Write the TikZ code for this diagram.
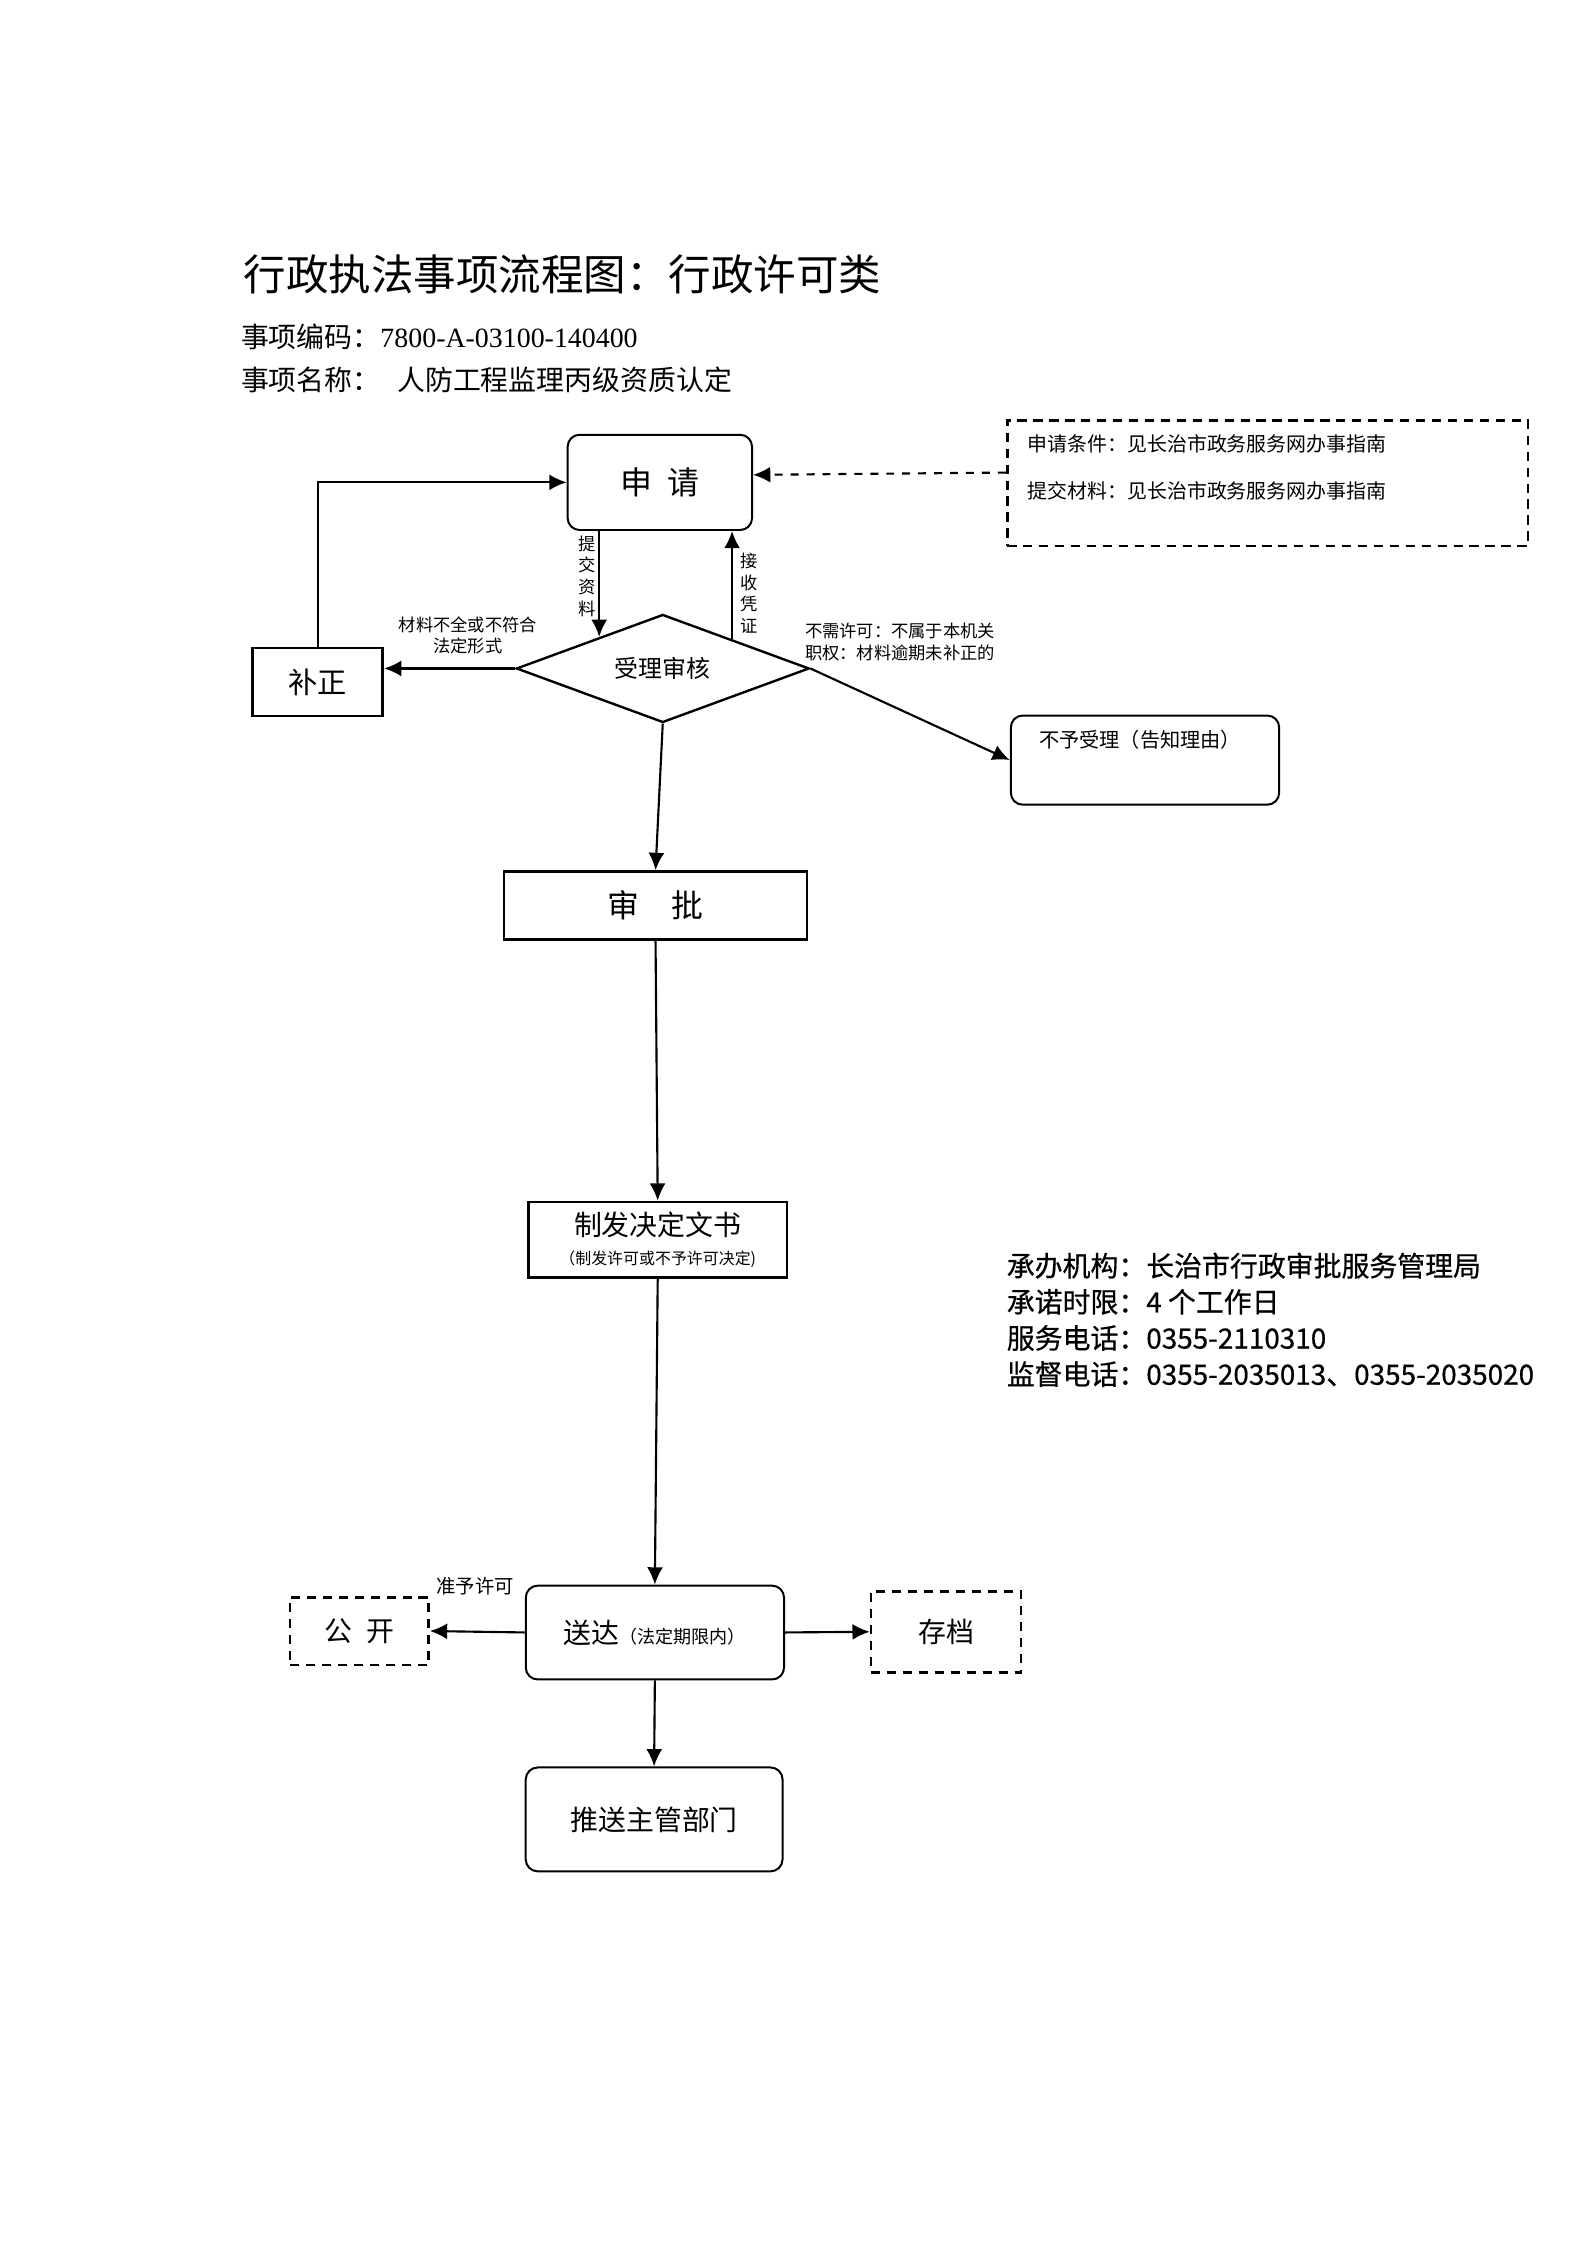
\documentclass[tikz,border=0pt]{standalone}
\usepackage{fontspec}
\setmainfont{Noto Sans CJK SC}
\newfontfamily\timesfont{Liberation Serif}
\newfontfamily\heiti{Noto Sans CJK SC}[FakeBold=0.6]
\usepackage{tikz}
\usetikzlibrary{shapes.geometric, arrows.meta, calc}

\begin{document}
\begin{tikzpicture}[scale=0.992,
  box/.style={draw, line width=1.0, inner sep=0, align=center},
  rbox/.style={box, line width=0.75, rounded corners=4.5pt},
  dbox/.style={box, dash pattern=on 3.5pt off 2.5pt},
  arr/.style={->, >={Latex[length=6.5pt, width=6pt]}, line width=0.8},
  note/.style={inner sep=0, align=center, font=\fontsize{6.5}{8.1}\selectfont}]

  \fill[white] (0, 0) rectangle (21.169, -29.940);

  \node[anchor=west, inner sep=0, font=\fontsize{16}{18}\selectfont] (title) at (3.245, -3.665) {行政执法事项流程图：行政许可类};
  \node[anchor=west, inner sep=0, font=\fontsize{10.5}{12}\selectfont] (code) at (3.207, -4.486) {事项编码：{\timesfont 7800-A-03100-140400}};
  \node[anchor=west, inner sep=0, font=\fontsize{10.5}{12}\selectfont] (name) at (3.207, -5.059) {事项名称：\hspace{0.6em}人防工程监理丙级资质认定};

  \node[rbox, minimum width=2.44cm, minimum height=1.26cm, font=\fontsize{12}{14}\selectfont] (shenqing) at (8.80, -6.433) {申\hspace{0.5em}请};
  \node[box, minimum width=1.72cm, minimum height=0.90cm, font=\fontsize{11}{13}\selectfont] (buzheng) at (4.238, -9.097) {补正};
  \node[diamond, draw, line width=0.9, aspect=2.7, inner sep=0, minimum width=3.875cm, minimum height=1.43cm,
        font=\fontsize{9}{11}\selectfont] (shenhe) at (8.839, -8.915) {受理审核\hspace{0.3cm}};
  \node[rbox, minimum width=3.55cm, minimum height=1.18cm] (buyu) at (15.27, -10.137) {};
  \node[anchor=west, inner sep=0, font=\fontsize{7.6}{9}\selectfont] (buyutext) at ([xshift=0.385cm, yshift=-0.343cm]buyu.north west) {不予受理（告知理由）};
  \node[dbox, minimum width=6.89cm, minimum height=1.661cm] (tiaojian) at (16.905, -6.4425) {};
  \node[anchor=west, inner sep=0, align=left, font=\fontsize{7.5}{17.9}\selectfont] (tiaojiantext) at ([xshift=0.285cm, yshift=0.21cm]tiaojian.west)
    {申请条件：见长治市政务服务网办事指南\\提交材料：见长治市政务服务网办事指南};

  \node[box, minimum width=4.01cm, minimum height=0.897cm, font=\fontsize{12}{14}\selectfont] (shenpi) at (8.743, -12.074) {审\hspace{1em}批};
  \node[box, minimum width=3.417cm, minimum height=0.993cm, font=\fontsize{10.5}{11}\selectfont] (zhifa) at (8.772, -16.532)
    {制发决定文书\\{\fontsize{6}{7}\selectfont （制发许可或不予许可决定)}};
  \node[rbox, minimum width=3.417cm, minimum height=1.241cm, font=\fontsize{10.5}{12}\selectfont] (songda) at (8.734, -21.772)
    {送达{\fontsize{6.8}{8}\selectfont （法定期限内）}};
  \node[dbox, minimum width=1.833cm, minimum height=0.897cm, font=\fontsize{10.5}{12}\selectfont] (gongkai) at (4.792, -21.753) {公\hspace{0.5em}开};
  \node[dbox, minimum width=1.985cm, minimum height=1.069cm, font=\fontsize{10.5}{12}\selectfont] (cundang) at (12.618, -21.763) {存档};
  \node[rbox, minimum width=3.398cm, minimum height=1.374cm, font=\fontsize{10.5}{12}\selectfont] (tuisong) at (8.724, -24.264) {推送主管部门};

  \node[note] (buquan) at (6.24, -8.476) {材料不全或不符合\\法定形式};
  \node[note, anchor=west, align=left] (buxu) at (10.73, -8.562) {不需许可：不属于本机关\\职权：材料逾期未补正的};
  \node[note] (tijiao) at (7.827, -7.684) {提\\交\\资\\料};
  \node[note] (jieshou) at (9.984, -7.913) {接\\收\\凭\\证};
  \node[note, font=\fontsize{7.3}{9}\selectfont] (zhunyu) at (6.338, -21.152) {准予许可};

  \node[anchor=west, inner sep=0, align=left, font=\heiti\fontsize{10.5}{13.6}\selectfont] (info) at (13.42, -17.601)
    {承办机构：长治市行政审批服务管理局\\承诺时限：4 个工作日\\服务电话：0355-2110310\\监督电话：0355-2035013、0355-2035020};

  \coordinate (tj) at ($(shenhe.north)!0.43!(shenhe.west)$);
  \coordinate (js) at ($(shenhe.north)!0.47!(shenhe.east)$);

  \draw[arr] (shenqing.south -| tj) -- (tj);
  \draw[arr] (js) -- (js |- shenqing.south);
  \draw[arr] (buzheng.north) |- (shenqing.west);
  \draw[arr, dashed] ([yshift=0.14cm]tiaojian.west) -- ([yshift=0.1cm]shenqing.east);
  \draw[arr] (shenhe.west) -- (shenhe.west -| buzheng.east);
  \draw[arr] (shenhe.east) -- (buyu.west);
  \draw[arr] (shenhe.south) -- (shenpi.north);
  \draw[arr] (shenpi.south) -- (zhifa.north);
  \draw[arr] (zhifa.south) -- (songda.north);
  \draw[arr] (songda.west) -- (gongkai.east);
  \draw[arr] (songda.east) -- (cundang.west);
  \draw[arr] (songda.south) -- (tuisong.north);

\end{tikzpicture}
\end{document}
